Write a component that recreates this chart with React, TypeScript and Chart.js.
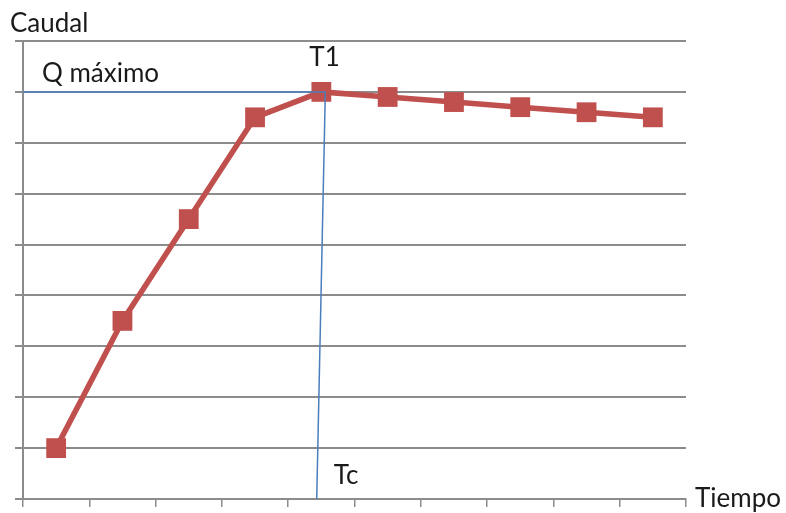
import React, { useEffect, useRef } from "react";
import { Chart, registerables } from "chart.js";

Chart.register(...registerables);

const categories = ["1", "2", "3", "4", "5", "6", "7", "8", "9", "10"];
const caudal = [1, 3.5, 5.5, 7.5, 8, 7.9, 7.8, 7.7, 7.6, 7.5];
const yMin = 0;
const yMax = 9;
const qMaxValue = 8;
const t1Index = 4;
const tcTopIndex = 4.06;
const tcBottomIndex = 3.93;

const FONT = "Lato, 'Open Sans', sans-serif";

const overlayPlugin = {
  id: "overlay",
  afterDatasetsDraw(chart: any) {
    const { ctx, chartArea, scales } = chart;
    const x = scales.x;
    const y = scales.y;
    ctx.save();
    ctx.strokeStyle = "#4a7ebb";
    ctx.lineWidth = 1.5;
    const yq = y.getPixelForValue(qMaxValue);
    ctx.beginPath();
    ctx.moveTo(chartArea.left, yq);
    ctx.lineTo(x.getPixelForValue(tcTopIndex), yq);
    ctx.stroke();
    ctx.beginPath();
    ctx.moveTo(x.getPixelForValue(tcTopIndex), yq);
    ctx.lineTo(x.getPixelForValue(tcBottomIndex), chartArea.bottom);
    ctx.stroke();
    ctx.restore();
  },
  afterDraw(chart: any) {
    const { ctx, chartArea, scales } = chart;
    const x = scales.x;
    const y = scales.y;
    ctx.save();
    ctx.fillStyle = "#1a1a1a";
    ctx.font = `26px ${FONT}`;
    ctx.textBaseline = "alphabetic";
    ctx.textAlign = "left";
    ctx.fillText("Caudal", chartArea.left - 13, chartArea.top - 9);
    ctx.fillText("Q máximo", chartArea.left + 19, y.getPixelForValue(qMaxValue) - 10);
    ctx.fillText("T1", x.getPixelForValue(t1Index) - 12, y.getPixelForValue(qMaxValue) - 26);
    ctx.fillText("Tc", x.getPixelForValue(tcBottomIndex) + 17, chartArea.bottom - 15);
    ctx.fillText("Tiempo", chartArea.right + 9, chartArea.bottom + 8);
    ctx.restore();
  },
};

export default function App() {
  const ref = useRef<HTMLCanvasElement | null>(null);
  useEffect(() => {
    document.body.style.margin = "0";
    const canvas = ref.current;
    if (!canvas) return;
    const chart = new Chart(canvas, {
      type: "line",
      data: {
        labels: categories,
        datasets: [
          {
            data: caudal,
            borderColor: "#c0504d",
            backgroundColor: "#c0504d",
            borderWidth: 5.5,
            pointStyle: "rect",
            pointRadius: 14,
            pointBorderWidth: 0,
            pointBackgroundColor: "#c0504d",
            tension: 0,
          },
        ],
      },
      options: {
        animation: false,
        responsive: false,
        devicePixelRatio: 1,
        layout: { padding: { left: 15, right: 100, top: 41, bottom: 5 } },
        plugins: { legend: { display: false }, tooltip: { enabled: false } },
        scales: {
          x: {
            type: "category",
            offset: true,
            grid: {
              offset: true,
              drawOnChartArea: false,
              drawTicks: true,
              tickLength: 8,
              color: "#8c8c8c",
              lineWidth: 1.5,
            },
            border: { display: true, color: "#8c8c8c", width: 2 },
            ticks: { display: false },
          },
          y: {
            min: yMin,
            max: yMax,
            ticks: { display: false, stepSize: 1 },
            grid: {
              drawOnChartArea: true,
              drawTicks: true,
              tickLength: 8,
              color: "#8c8c8c",
              lineWidth: 2,
            },
            border: { display: true, color: "#8c8c8c", width: 2 },
          },
        },
      },
      plugins: [overlayPlugin],
    });
    return () => chart.destroy();
  }, []);
  return (
    <div style={{ width: 786, height: 513, background: "#fff" }}>
      <canvas ref={ref} width={786} height={513} style={{ display: "block", width: 786, height: 513 }} />
    </div>
  );
}
